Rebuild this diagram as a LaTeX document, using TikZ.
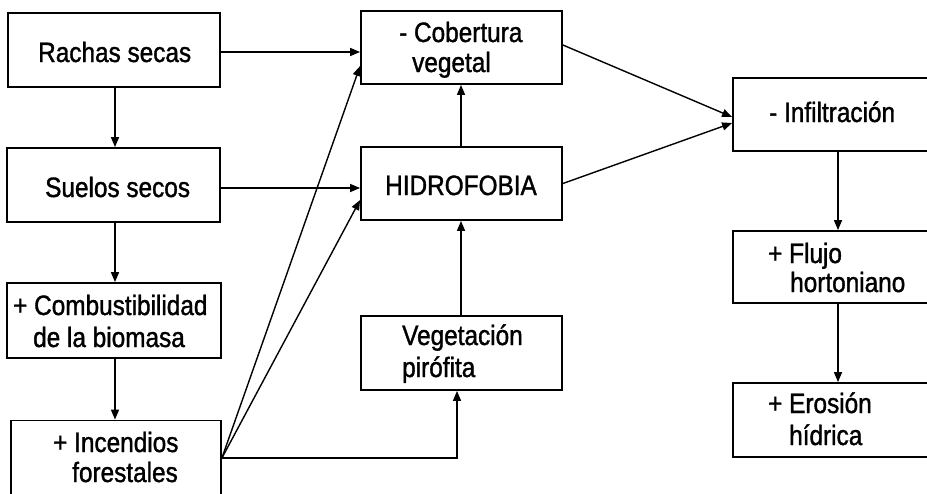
\documentclass[tikz,border=0pt]{standalone}
\usepackage{fontspec}
\setmainfont{Liberation Sans}[FakeStretch=0.87,FakeBold=1.3]
\usetikzlibrary{arrows.meta}
\tikzset{
  box/.style={draw, line width=1.8pt, inner sep=0pt},
  txt/.style={anchor=base west, inner sep=0pt, font=\fontsize{28}{30}\selectfont},
  conn/.style={line width=1.4pt, -{Triangle[length=10pt,width=8pt]}},
  plain/.style={line width=1.4pt}
}
\begin{document}
\begin{tikzpicture}[x=1pt,y=-1pt]
\useasboundingbox (0,0) rectangle (927,493);
\clip (0,0) rectangle (927,493);
% boxes
\node[box, minimum width=212pt, minimum height=74pt] (rachas) at (114,50) {};
\node[box, minimum width=213pt, minimum height=74pt] (suelos) at (113.5,185) {};
\node[box, minimum width=214pt, minimum height=75pt] (comb) at (114,320.5) {};
\node[box, minimum width=210pt, minimum height=75pt] (inc) at (116,458) {};
\node[box, minimum width=201pt, minimum height=73pt] (cob) at (461.5,47.5) {};
\node[box, minimum width=201pt, minimum height=73pt] (hidro) at (461.5,183.5) {};
\node[box, minimum width=201pt, minimum height=74pt] (veg) at (461.5,353) {};
\node[box, minimum width=202pt, minimum height=73pt] (infil) at (834,114.5) {};
\node[box, minimum width=202pt, minimum height=72pt] (flujo) at (834,267) {};
\node[box, minimum width=202pt, minimum height=74pt] (eros) at (834,420) {};
% texts
\node[txt] (t1) at (38,62) {Rachas secas};
\node[txt] (t2) at (45,197) {Suelos secos};
\node[txt] (t3) at (13,315) {+ Combustibilidad};
\node[txt] (t4) at (33,347) {de la biomasa};
\node[txt] (t5) at (53,452) {+ Incendios};
\node[txt] (t6) at (72,482) {forestales};
\node[txt] (t7) at (399,42) {- Cobertura};
\node[txt] (t8) at (412,72) {vegetal};
\node[txt] (t9) at (385,195) {HIDROFOBIA};
\node[txt] (t10) at (402,345) {Vegetación};
\node[txt] (t11) at (402,377) {pirófita};
\node[txt] (t12) at (769,122) {- Infiltración};
\node[txt] (t13) at (768,263) {+ Flujo};
\node[txt] (t14) at (790,292) {hortoniano};
\node[txt] (t15) at (768,413) {+ Erosión};
\node[txt] (t16) at (789,445) {hídrica};
% helper coordinates
\coordinate (lx) at (115,0);
\coordinate (mx) at (461,0);
\coordinate (vx) at (457,0);
\coordinate (rx) at (838,0);
\coordinate (ry) at (0,52);
\coordinate (sy) at (0,188);
\coordinate (c1) at (0,66);
\coordinate (h1) at (0,200);
\coordinate (i1) at (0,117);
\coordinate (i2) at (0,123);
\coordinate (cy) at (0,45);
% connectors
\draw[conn] (rachas.south -| lx) -- (suelos.north -| lx);
\draw[conn] (suelos.south -| lx) -- (comb.north -| lx);
\draw[conn] (comb.south -| lx) -- (inc.north -| lx);
\draw[conn] (rachas.east |- ry) -- (cob.west |- ry);
\draw[conn] (suelos.east |- sy) -- (hidro.west |- sy);
\draw[conn] (inc.east) -- (cob.west |- c1);
\draw[conn] (inc.east) -- (hidro.west |- h1);
\draw[conn] (inc.east) -- (inc.east -| vx) -- (veg.south -| vx);
\draw[conn] (hidro.north -| mx) -- (cob.south -| mx);
\draw[conn] (veg.north -| mx) -- (hidro.south -| mx);
\draw[conn] (cob.east |- cy) -- (infil.west |- i1);
\draw[conn] (hidro.east) -- (infil.west |- i2);
\draw[conn] (infil.south -| rx) -- (flujo.north -| rx);
\draw[conn] (flujo.south -| rx) -- (eros.north -| rx);
\end{tikzpicture}
\end{document}
